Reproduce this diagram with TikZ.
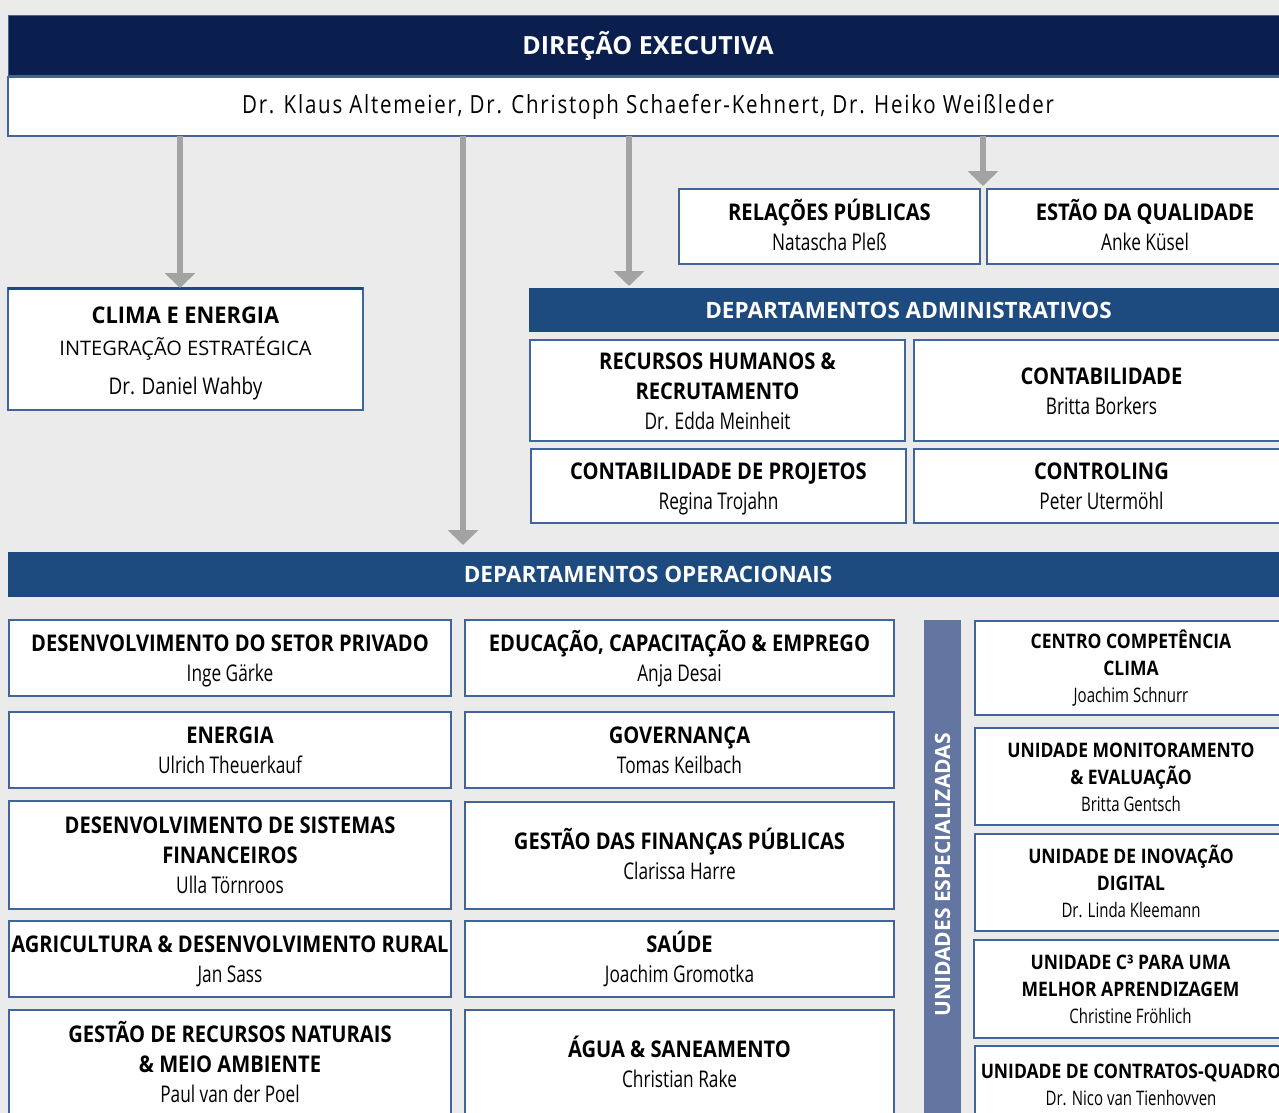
\documentclass[tikz,border=0pt]{standalone}
\usepackage{fontspec}
\setmainfont[FakeStretch=0.75, BoldFeatures={FakeStretch=0.875}]{Open Sans}
\newfontfamily\hdfont[FakeStretch=0.82, LetterSpace=7]{Open Sans}
\newfontfamily\bandfont{Open Sans}
\newfontfamily\climafont[FakeStretch=0.82, BoldFeatures={FakeStretch=0.95}]{Open Sans}
\newfontfamily\intfont{Open Sans}
\usetikzlibrary{arrows.meta}
\definecolor{bg}{HTML}{EBEBEB}
\definecolor{navy}{HTML}{0B1F4E}
\definecolor{bandc}{HTML}{1D4A7F}
\definecolor{vband}{HTML}{6375A1}
\definecolor{bord}{HTML}{41659A}
\definecolor{arrc}{HTML}{A3A3A3}
\newcommand\sr{\rule[-0.2\baselineskip]{0pt}{0.99\baselineskip}}
\newcommand\tit[1]{\textbf{#1}\sr}
\newcommand\nam[1]{#1\sr}
\tikzset{
  box/.style={draw=bord, line width=1.5pt, fill=white, inner sep=0pt, outer sep=0pt, align=center, text=black, font=\fontsize{23}{30}\selectfont},
  rbox/.style={box, font=\fontsize{20}{27}\selectfont},
  band/.style={fill=bandc, inner sep=0pt, outer sep=0pt, text=white, font=\bandfont\bfseries\fontsize{22.5}{28}\selectfont},
  arr/.style={draw=arrc, line width=6pt, -{Triangle[width=30pt,length=15pt]}},
}
\newcommand\ob[7][box]{\node[#1, minimum width={#5-#3}, minimum height={#6-#4}] (#2) at ({(#3+#5)/2},{(#4+#6)/2}) {#7};}
\begin{document}
\begin{tikzpicture}[x=1pt,y=-1pt]
\useasboundingbox (0,0) rectangle (1279,1113);
\fill[bg] (0,0) rectangle (1279,1113);
% header
\node[draw=bord, line width=1.5pt, fill=white, minimum width=1280, minimum height=59, inner sep=0pt, outer sep=0pt, font=\hdfont\fontsize{25}{28}\selectfont] (names) at (648,106.5) {Dr. Klaus Altemeier, Dr. Christoph Schaefer-Kehnert, Dr. Heiko Weißleder};
\node[fill=navy, draw=bord, line width=1pt, minimum width=1280, minimum height=60, inner sep=0pt, outer sep=0pt, text=white, font=\bandfont\bfseries\fontsize{25}{30}\selectfont] (dir) at (648,45.5) {DIREÇÃO EXECUTIVA};
% coordinates for arrows
\coordinate (a1) at (180,0);
\coordinate (a2) at (463,0);
\coordinate (a3) at (629,0);
\coordinate (a4) at (983,0);
\coordinate (a4e) at (983,186);
% clima
\ob{clima}{8}{288}{363}{410}{{\climafont\bfseries\fontsize{23}{33}\selectfont CLIMA E ENERGIA}\rule[-6.6pt]{0pt}{34pt}\\[2pt] {\intfont\fontsize{20}{33}\selectfont INTEGRAÇÃO ESTRATÉGICA}\\[9pt] {\climafont Dr. Daniel Wahby}\rule[-6.6pt]{0pt}{26pt}}
\draw[bandc, line width=3pt] (clima.north west) -- (clima.north east);
% PR & QA
\ob{rp}{679}{189}{980}{264}{\tit{RELAÇÕES PÚBLICAS}\\ \nam{Natascha Pleß}}
\ob{qa}{987}{189}{1303}{264}{\tit{ESTÃO DA QUALIDADE}\\ \nam{Anke Küsel}}
% admin band
\node[band, minimum width=759, minimum height=44] (adm) at (908.5,310) {DEPARTAMENTOS ADMINISTRATIVOS};
\ob{rh}{530}{340}{905}{441}{\tit{RECURSOS HUMANOS \&}\\ \tit{RECRUTAMENTO}\\ \nam{Dr. Edda Meinheit}}
\ob{cont}{914}{340}{1289}{441}{\tit{CONTABILIDADE}\\ \nam{Britta Borkers}}
\ob{cproj}{531}{449}{906}{523}{\tit{CONTABILIDADE DE PROJETOS}\\ \nam{Regina Trojahn}}
\ob{ctrl}{914}{449}{1289}{523}{\tit{CONTROLING}\\ \nam{Peter Utermöhl}}
% operational band
\node[band, minimum width=1280, minimum height=45] (op) at (648,574.5) {DEPARTAMENTOS OPERACIONAIS};
% left column
\ob{l1}{9}{620}{451}{696}{\tit{DESENVOLVIMENTO DO SETOR PRIVADO}\\ \nam{Inge Gärke}}
\ob{l2}{9}{712}{451}{788}{\tit{ENERGIA}\\ \nam{Ulrich Theuerkauf}}
\ob{l3}{9}{801}{451}{909}{\tit{DESENVOLVIMENTO DE SISTEMAS}\\ \tit{FINANCEIROS}\\ \nam{Ulla Törnroos}}
\ob{l4}{9}{921}{451}{997}{\tit{AGRICULTURA \& DESENVOLVIMENTO RURAL}\\ \nam{Jan Sass}}
\ob{l5}{9}{1010}{451}{1118}{\tit{GESTÃO DE RECURSOS NATURAIS}\\ \tit{\& MEIO AMBIENTE}\\ \nam{Paul van der Poel}}
% middle column
\ob{m1}{465}{620}{894}{696}{\tit{EDUCAÇÃO, CAPACITAÇÃO \& EMPREGO}\\ \nam{Anja Desai}}
\ob{m2}{465}{712}{894}{788}{\tit{GOVERNANÇA}\\ \nam{Tomas Keilbach}}
\ob{m3}{465}{802}{894}{909}{\tit{GESTÃO DAS FINANÇAS PÚBLICAS}\\ \nam{Clarissa Harre}}
\ob{m4}{465}{921}{894}{997}{\tit{SAÚDE}\\ \nam{Joachim Gromotka}}
\ob{m5}{465}{1010}{894}{1118}{\tit{ÁGUA \& SANEAMENTO}\\ \nam{Christian Rake}}
% vertical band
\node[fill=vband, minimum width=510, minimum height=37, inner sep=0pt, rotate=90, text=white, font=\bandfont\bfseries\fontsize{21}{24}\selectfont] (ue) at (942.5,875) {UNIDADES ESPECIALIZADAS};
% right column
\ob[rbox]{r1}{975}{621}{1287}{715}{\tit{CENTRO COMPETÊNCIA}\\ \tit{CLIMA}\\ \nam{Joachim Schnurr}}
\ob[rbox]{r2}{975}{728}{1287}{825}{\tit{UNIDADE MONITORAMENTO}\\ \tit{\& EVALUAÇÃO}\\ \nam{Britta Gentsch}}
\ob[rbox]{r3}{975}{834}{1287}{931}{\tit{UNIDADE DE INOVAÇÃO}\\ \tit{DIGITAL}\\ \nam{Dr. Linda Kleemann}}
\ob[rbox]{r4}{974}{940}{1287}{1038}{\tit{UNIDADE C³ PARA UMA}\\ \tit{MELHOR APRENDIZAGEM}\\ \nam{Christine Fröhlich}}
\ob[rbox]{r5}{975}{1046}{1287}{1122}{\tit{UNIDADE DE CONTRATOS-QUADRO}\\ \nam{Dr. Nico van Tienhovven}}
% arrows
\draw[arr] (names.south -| a1) -- (clima.north -| a1);
\draw[arr] (names.south -| a2) -- ([yshift=7pt]op.north -| a2);
\draw[arr] (names.south -| a3) -- ([yshift=2pt]adm.north -| a3);
\draw[arr] (names.south -| a4) -- (a4e);
\end{tikzpicture}
\end{document}
